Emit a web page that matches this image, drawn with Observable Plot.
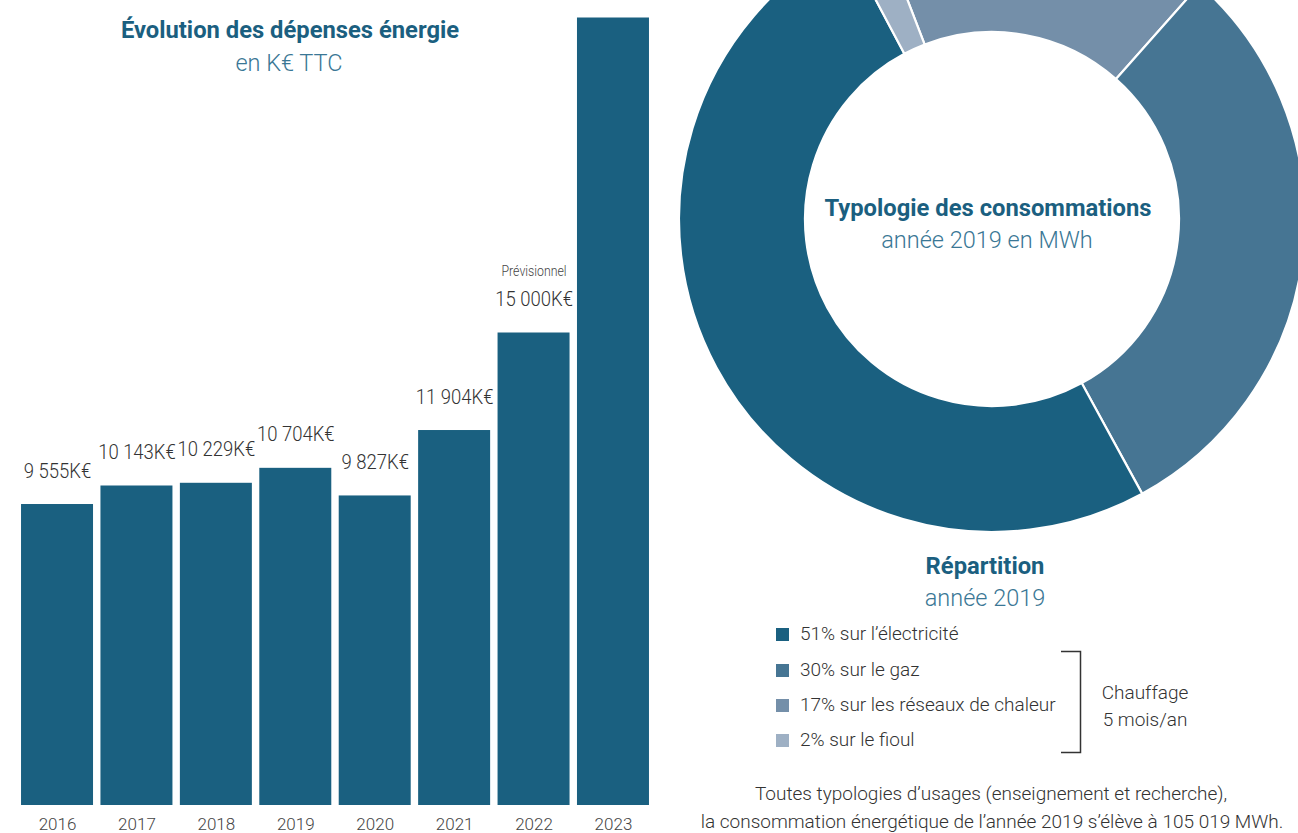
<!DOCTYPE html>
<html><head><meta charset="utf-8">
<script src="https://cdn.jsdelivr.net/npm/d3@7"></script>
<script src="https://cdn.jsdelivr.net/npm/@observablehq/plot@0.6"></script>
<style>
html,body{margin:0;padding:0;background:#fff;overflow:hidden;}
#root{position:relative;width:1298px;height:833px;overflow:hidden;font-family:Roboto,sans-serif;}
.abs{position:absolute;white-space:nowrap;line-height:30px;height:30px;}
.c{transform:translateX(-50%) scaleX(var(--k,1));transform-origin:center;}
.l{transform:scaleX(var(--k,1));transform-origin:left center;}
.bold{font-weight:700;color:#1b5f80;--k:0.99;}
.sub{font-weight:300;color:#3a7795;}
.txt{font-weight:300;color:#333;}
#bars,#donut{position:absolute;line-height:0;}
#donut{width:626px;height:626px;}
#donut svg{max-width:none !important;}
.sw{position:absolute;width:13px;height:13px;}
</style></head>
<body><div id="root">
  <div class="abs c bold" style="left:290px;top:15px;font-size:24px">Évolution des dépenses énergie</div>
  <div class="abs c sub" style="left:289px;top:48px;font-size:23.5px">en K€ TTC</div>
  <div id="bars" style="left:0;top:0"></div>
  <div id="donut" style="left:679px;top:-94px"></div>
  <div class="abs c bold" style="left:988px;top:193px;font-size:24px">Typologie des consommations</div>
  <div class="abs c sub" style="left:987px;top:225px;font-size:23.5px">année 2019 en MWh</div>
  <div class="abs c bold" style="left:985px;top:551px;font-size:24px">Répartition</div>
  <div class="abs c sub" style="left:985px;top:583px;font-size:23.5px">année 2019</div>
  <div id="legend"></div>
  <svg style="position:absolute;left:1055px;top:645px" width="40" height="115">
    <path d="M6,6.5H25.5V107.5H6" fill="none" stroke="#333" stroke-width="1.5"/>
  </svg>
  <div class="abs c txt" style="left:1145px;top:678px;font-size:19px">Chauffage</div>
  <div class="abs c txt" style="left:1145px;top:705px;font-size:19px">5 mois/an</div>
  <div class="abs c txt" style="left:991px;top:779px;font-size:19px">Toutes typologies d’usages (enseignement et recherche),</div>
  <div class="abs c txt" style="left:992px;top:807px;font-size:19px">la consommation énergétique de l’année 2019 s’élève à 105 019 MWh.</div>
</div>
<script>
// ---- Bar chart data ----
const years = ["2016","2017","2018","2019","2020","2021","2022","2023"];
const spend = [9555, 10143, 10229, 10704, 9827, 11904, 15000, 25000];
const spendLabels = ["9 555K€","10 143K€","10 229K€","10 704K€","9 827K€","11 904K€","15 000K€",""];
const spendNotes = ["","","","","","","Prévisionnel",""];

// ---- Donut data (slice sizes) ----
const sources = ["électricité","gaz","réseaux de chaleur","fioul"];
const shares = [50.2, 30.5, 17.4, 1.9];
const sourceColors = ["#1a6080","#467593","#748fa9","#9eb0c4"];
const legendLabels = ["51% sur l’électricité","30% sur le gaz","17% sur les réseaux de chaleur","2% sur le fioul"];
const pieOrder = [2, 1, 0, 3]; // clockwise drawing order

const barData = years.map((y, i) => ({year: y, value: spend[i], label: spendLabels[i], note: spendNotes[i]}));

function condense(svg, k) {
  svg.querySelectorAll('g[aria-label="text"] text').forEach(t => {
    let tr = t.getAttribute("transform") || "";
    const x = t.getAttribute("x");
    if (x !== null && !/em$/.test(x)) { tr += ` translate(${x},0)`; t.removeAttribute("x"); }
    t.setAttribute("transform", tr + ` scale(${k},1)`);
  });
}

const bars = Plot.plot({
  width: 670, height: 833,
  marginLeft: 13.6, marginRight: 13.6, marginTop: 17.5, marginBottom: 28,
  style: {fontFamily: "Roboto", fontWeight: 300, background: "transparent"},
  x: {domain: years, padding: 0.0935, round: false, axis: null},
  y: {domain: [0, 25000], axis: null},
  marks: [
    Plot.barY(barData, {x: "year", y: "value", fill: "#1a6080"}),
    Plot.axisX({tickSize: 0, tickPadding: 12, fontSize: 17, fill: "#444", label: null}),
    Plot.text(barData, {x: "year", y: "value", text: "label", dy: -27, lineAnchor: "bottom", fontSize: 21, fill: "#333"}),
    Plot.text(barData, {x: "year", y: "value", text: "note", dy: -57, lineAnchor: "bottom", fontSize: 14, fill: "#444"})
  ]
});
condense(bars, 0.88);
document.getElementById("bars").appendChild(bars);

// donut via custom mark using plot scales
const donutData = pieOrder.map(i => ({source: sources[i], share: shares[i], color: sourceColors[i]}));
const innerRatio = 187 / 313;
const startDeg = -21.1;
function donutMark(index, scales) {
  const cx = scales.x(0), cy = scales.y(0);
  const R = scales.x(1) - scales.x(0);
  const pie = d3.pie().sort(null).value(d => d.share)
    .startAngle(startDeg * Math.PI / 180).endAngle(startDeg * Math.PI / 180 + 2 * Math.PI);
  const arc = d3.arc().innerRadius(R * innerRatio).outerRadius(R);
  const g = d3.create("svg:g").attr("transform", `translate(${cx},${cy})`);
  g.selectAll("path").data(pie(donutData)).join("path")
    .attr("d", arc).attr("fill", d => d.data.color)
    .attr("stroke", "#fff").attr("stroke-width", 2.2).attr("stroke-linejoin", "round");
  return g.node();
}
const donut = Plot.plot({
  width: 626, height: 626, margin: 0,
  x: {domain: [-1, 1], axis: null},
  y: {domain: [-1, 1], axis: null},
  style: {background: "transparent", overflow: "visible", maxWidth: "none"},
  marks: [donutMark]
});
document.getElementById("donut").appendChild(donut);

// legend
const legend = document.getElementById("legend");
const legendY = [634, 670, 705, 740];
legendLabels.forEach((lab, i) => {
  const sw = document.createElement("div");
  sw.className = "sw";
  sw.style.left = "776px"; sw.style.top = (legendY[i] - 6.5) + "px";
  sw.style.background = sourceColors[i];
  legend.appendChild(sw);
  const t = document.createElement("div");
  t.className = "abs l txt";
  t.style.left = "800px"; t.style.top = (legendY[i] - 15) + "px"; t.style.fontSize = "19px";
  t.textContent = lab;
  legend.appendChild(t);
});
</script>
</body></html>
